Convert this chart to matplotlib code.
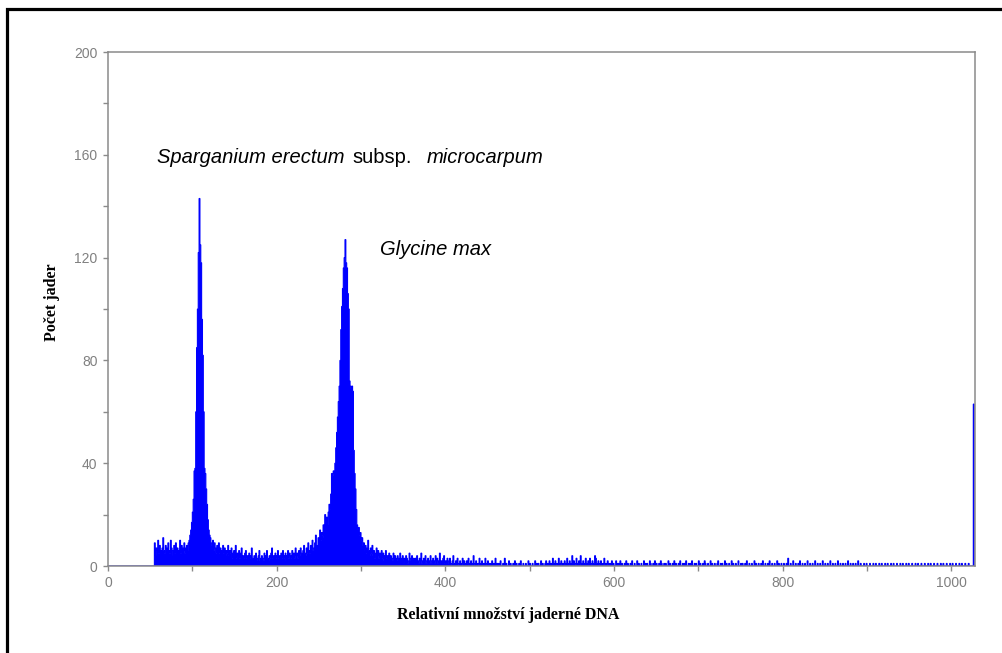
import numpy as np
import matplotlib.pyplot as plt
from matplotlib.patches import Rectangle

# Flow cytometry histogram: nuclei count per channel of relative DNA content
n_channels = 1028

# background left of the first peak, channels 55..96
bg_left_start = 55
bg_left = [9, 4, 7, 6, 10, 5, 8, 6, 4, 7, 11, 6, 5, 8, 7, 4, 9, 6, 5, 10,
           7, 6, 4, 8, 5, 9, 6, 7, 4, 6, 10, 5, 8, 7, 6, 9, 5, 7, 8, 6,
           9, 10]

# Sparganium peak, channels 97..122
peak1_start = 97
peak1 = [12, 14, 17, 21, 26, 37, 38, 60, 85, 100, 122, 143, 125, 118, 96, 82,
         60, 38, 36, 30, 24, 18, 14, 12, 11, 9]

# between the peaks, channels 123..257
gap_start = 123
gap = [8, 10, 6, 9, 7, 5, 8, 6, 9, 5, 7, 4, 6, 8, 5, 7, 4, 6, 5, 8,
       4, 6, 5, 7, 3, 5, 6, 4, 8, 3, 5, 4, 6, 3, 5, 7, 2, 4, 3, 5,
       6, 3, 4, 2, 5, 3, 4, 7, 3, 2, 4, 3, 5, 2, 3, 4, 6, 2, 3, 4,
       2, 3, 5, 2, 4, 6, 3, 2, 4, 3, 5, 7, 3, 4, 2, 5, 3, 4, 6, 3,
       4, 2, 5, 3, 6, 4, 3, 5, 2, 4, 6, 3, 5, 4, 3, 6, 4, 5, 3, 7,
       4, 5, 3, 6, 4, 7, 5, 4, 6, 8, 5, 4, 7, 5, 9, 6, 5, 8, 6, 10,
       7, 6, 9, 12, 8, 7, 11, 9, 14, 10, 13, 12, 16, 11, 20]

# Glycine max peak, channels 258..302
peak2_start = 258
peak2 = [14, 19, 16, 21, 24, 22, 28, 36, 35, 37, 36, 40, 46, 52, 58, 64,
         70, 80, 92, 101, 108, 116, 120, 127, 118, 116, 106, 100, 72, 70, 69, 70,
         68, 45, 36, 30, 22, 16, 14, 15, 12, 13, 10, 11, 8]

# decaying tail, channels 303..402
tail_start = 303
tail = [9, 6, 8, 5, 7, 10, 6, 4, 7, 5, 8, 4, 6, 3, 5, 7, 4, 6, 3, 5,
        4, 6, 3, 5, 2, 4, 6, 3, 4, 2, 5, 3, 4, 2, 3, 5, 2, 4, 3, 2,
        4, 3, 2, 5, 3, 2, 4, 1, 3, 2, 4, 3, 1, 2, 5, 3, 2, 4, 2, 3,
        1, 3, 2, 4, 2, 1, 3, 2, 5, 1, 2, 3, 1, 4, 2, 1, 3, 2, 1, 4,
        2, 1, 3, 2, 1, 4, 2, 3, 1, 2, 5, 1, 2, 1, 3, 4, 1, 2, 1, 3]

# sparse debris, channels 403..1022
debris_start = 403
debris = [2, 1, 3, 0, 1, 2, 4, 1, 0, 2, 1, 3, 1, 0, 2, 1, 0, 3, 1, 2,
          1, 0, 2, 1, 3, 0, 1, 2, 0, 1, 4, 1, 0, 2, 1, 0, 1, 3, 0, 1,
          2, 0, 1, 0, 3, 1, 0, 2, 0, 1, 0, 1, 2, 0, 1, 0, 3, 0, 1, 0,
          1, 0, 2, 0, 0, 1, 0, 3, 0, 1, 0, 0, 2, 0, 1, 0, 0, 1, 0, 2,
          0, 1, 0, 0, 1, 0, 2, 0, 0, 1, 0, 0, 1, 0, 0, 2, 0, 1, 0, 0,
          1, 0, 0, 2, 0, 1, 0, 1, 0, 0, 2, 0, 1, 0, 0, 1, 2, 0, 1, 0,
          2, 0, 1, 0, 3, 1, 0, 2, 1, 0, 1, 3, 0, 1, 2, 0, 1, 0, 2, 1,
          0, 3, 1, 0, 2, 1, 0, 4, 1, 2, 0, 1, 3, 0, 1, 2, 0, 4, 1, 0,
          2, 1, 0, 3, 1, 0, 2, 1, 3, 0, 1, 2, 0, 1, 4, 3, 1, 0, 2, 1,
          0, 2, 1, 0, 1, 3, 0, 1, 0, 2, 1, 0, 1, 0, 2, 0, 1, 0, 0, 2,
          1, 0, 1, 0, 2, 0, 1, 0, 0, 1, 0, 2, 0, 1, 0, 0, 1, 0, 2, 0,
          0, 1, 0, 0, 2, 0, 1, 0, 0, 1, 0, 0, 2, 0, 1, 0, 1, 0, 0, 2,
          1, 0, 0, 1, 0, 2, 0, 1, 0, 0, 1, 0, 2, 1, 0, 0, 1, 0, 1, 0,
          0, 2, 0, 1, 0, 0, 1, 0, 2, 0, 1, 0, 0, 1, 0, 2, 0, 0, 1, 0,
          1, 0, 2, 0, 0, 1, 0, 1, 0, 2, 0, 0, 1, 0, 1, 0, 0, 2, 0, 1,
          0, 0, 1, 0, 2, 1, 0, 0, 1, 0, 0, 2, 0, 1, 0, 0, 1, 0, 0, 1,
          2, 0, 0, 1, 0, 1, 0, 0, 2, 0, 1, 0, 0, 1, 0, 0, 2, 0, 1, 0,
          0, 1, 0, 0, 2, 0, 0, 1, 0, 1, 0, 0, 1, 0, 2, 0, 0, 1, 0, 0,
          1, 0, 0, 2, 0, 1, 0, 0, 1, 0, 0, 1, 0, 2, 0, 0, 1, 0, 0, 1,
          0, 2, 0, 0, 1, 0, 0, 1, 0, 0, 2, 0, 1, 0, 0, 1, 0, 0, 1, 0,
          0, 1, 0, 3, 0, 0, 1, 0, 0, 2, 0, 0, 1, 0, 0, 1, 0, 2, 0, 0,
          1, 0, 0, 1, 0, 0, 2, 0, 0, 1, 0, 0, 1, 0, 0, 2, 0, 0, 1, 0,
          0, 1, 0, 0, 2, 0, 0, 1, 0, 0, 1, 0, 0, 2, 0, 0, 1, 0, 0, 1,
          0, 0, 2, 0, 0, 1, 0, 0, 1, 0, 0, 1, 0, 0, 2, 0, 0, 1, 0, 0,
          1, 0, 0, 1, 0, 0, 2, 0, 0, 1, 0, 0, 0, 1, 0, 0, 1, 0, 0, 0,
          1, 0, 0, 0, 1, 0, 0, 1, 0, 0, 0, 1, 0, 0, 1, 0, 0, 0, 1, 0,
          0, 1, 0, 0, 0, 1, 0, 0, 1, 0, 0, 0, 1, 0, 0, 0, 1, 0, 0, 1,
          0, 0, 0, 1, 0, 0, 1, 0, 0, 0, 1, 0, 0, 0, 1, 0, 0, 1, 0, 0,
          0, 1, 0, 0, 0, 1, 0, 0, 0, 1, 0, 0, 1, 0, 0, 0, 1, 0, 0, 0,
          1, 0, 0, 0, 1, 0, 0, 1, 0, 0, 0, 1, 0, 0, 0, 1, 0, 0, 1, 0,
          0, 0, 1, 0, 0, 0, 1, 0, 0, 1, 0, 0, 0, 1, 0, 0, 0, 1, 0, 0]

# overflow channel at the end of the range
overflow_channel = 1026
overflow_count = 63

counts = np.zeros(n_channels)
for start, seg in [(bg_left_start, bg_left), (peak1_start, peak1),
                   (gap_start, gap), (peak2_start, peak2),
                   (tail_start, tail), (debris_start, debris)]:
    counts[start:start + len(seg)] = seg
counts[overflow_channel] = overflow_count
edges = np.arange(n_channels + 1)

W, H = 1003, 653
fig = plt.figure(figsize=(W / 100, H / 100), dpi=100)
ax = fig.add_axes([108 / W, 1 - 566 / H, (975 - 108) / W, (566 - 52) / H])

ax.stairs(counts, edges, fill=True, facecolor='#0000ff', edgecolor='#0000ff',
          linewidth=0.8)

ax.set_xlim(0, n_channels)
ax.set_ylim(0, 200)
ax.set_xticks(range(0, 1001, 200))
ax.set_xticks(range(100, 1001, 200), minor=True)
ax.set_yticks(range(0, 201, 40))
ax.set_yticks(range(20, 200, 40), minor=True)

grey = '#8a8a8a'
for s in ax.spines.values():
    s.set_color(grey)
    s.set_linewidth(1.1)
    s.set_zorder(3)
ax.tick_params(which='both', direction='out', length=3.5, width=1, color=grey,
               labelcolor='#808080', labelsize=10, pad=4)
for lab in ax.get_xticklabels() + ax.get_yticklabels():
    lab.set_fontfamily('Liberation Sans')

fig.text(52 / W, 1 - 302 / H, 'Počet jader', rotation=90, ha='center', va='center',
         family='Liberation Serif', weight='bold', fontsize=11.5)
fig.text(397 / W, 1 - 615 / H, 'Relativní množství jaderné DNA', ha='left', va='center',
         family='Liberation Serif', weight='bold', fontsize=11.5)

# species labels next to their peaks
label_kw = dict(family='Liberation Sans', fontsize=14.5, va='baseline', color='black')
fig.text(157 / W, 1 - 163 / H, 'Sparganium erectum', style='italic', **label_kw)
fig.text(352 / W, 1 - 163 / H, 'subsp.', **label_kw)
fig.text(427 / W, 1 - 163 / H, 'microcarpum', style='italic', **label_kw)
fig.text(380 / W, 1 - 255 / H, 'Glycine max', style='italic', **label_kw)

# black frame around the whole figure
fig.patches.append(Rectangle((7 / W, -0.05), 1.1, 1 - 9 / H + 0.05, transform=fig.transFigure,
                             fill=False, edgecolor='black', linewidth=2.3))

fig.savefig('out.png', dpi=100)
